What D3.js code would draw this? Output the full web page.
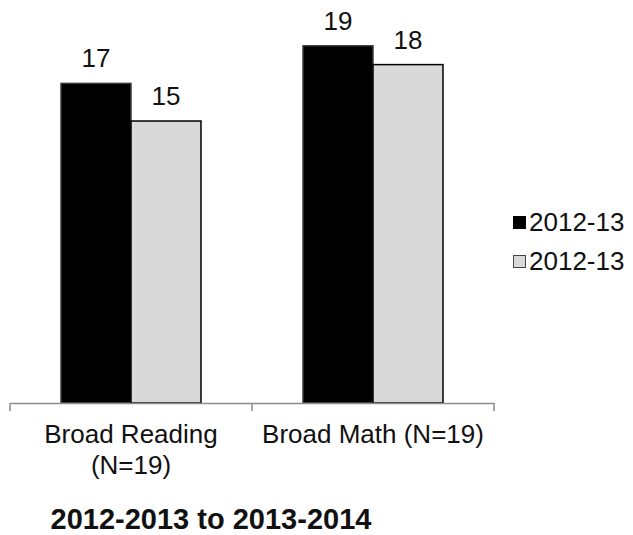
<!DOCTYPE html>
<html><head><meta charset="utf-8">
<script src="https://cdn.jsdelivr.net/npm/d3@7"></script>
<style>body{margin:0;background:#fff}svg{display:block}text{font-family:"Liberation Sans",Arial,sans-serif}</style>
</head><body><div id="chart"></div>
<script>
const categories = ["Broad Reading (N=19)", "Broad Math (N=19)"];
const categoryLines = [["Broad Reading", "(N=19)"], ["Broad Math (N=19)"]];
const seriesNames = ["2012-13", "2012-13"];
const seriesA = [17, 19];
const seriesB = [15, 18];
const seriesColors = ["#000000", "#d9d9d9"];
const seriesStroke = ["#3a3a3a", "#000000"];
const title = "2012-2013 to 2013-2014";

const W = 633, H = 535;
const svg = d3.select("#chart").append("svg").attr("width", W).attr("height", H);

const x0 = d3.scaleBand().domain(categories).range([10, 494]).padding(0);
const seriesIdx = [0, 1];
const x1 = d3.scaleBand().domain(seriesIdx).range([0, x0.bandwidth()]).paddingInner(0).paddingOuter(0.729);
const y = d3.scaleLinear().domain([0, 20]).range([403, 27]);

const data = categories.map((c, i) => ({cat: c, vals: [seriesA[i], seriesB[i]]}));

const g = svg.append("g");
const groups = g.selectAll("g.cat").data(data).join("g")
  .attr("transform", d => `translate(${x0(d.cat)},0)`);

groups.selectAll("rect").data(d => d.vals.map((v, s) => ({v, s}))).join("rect")
  .attr("x", d => x1(d.s))
  .attr("y", d => y(d.v))
  .attr("width", x1.bandwidth())
  .attr("height", d => y(0) - y(d.v))
  .attr("fill", d => seriesColors[d.s])
  .attr("stroke", d => seriesStroke[d.s])
  .attr("stroke-width", 1.5);

groups.selectAll("text.val").data(d => d.vals.map((v, s) => ({v, s}))).join("text")
  .attr("class", "val")
  .attr("x", d => x1(d.s) + x1.bandwidth() / 2)
  .attr("y", d => y(d.v) - 16)
  .attr("text-anchor", "middle")
  .attr("font-size", 26)
  .attr("fill", "#111")
  .text(d => d.v);

// axis
const axis = d3.axisBottom(x0).tickValues([]).tickSizeOuter(0);
const ax = svg.append("g").attr("transform", `translate(0,${y(0)})`).call(axis);
ax.select(".domain").attr("stroke", "#8c8c8c").attr("stroke-width", 1.5);
const boundaries = [x0.range()[0], ...categories.map(c => x0(c) + x0.bandwidth())];
ax.selectAll("line.b").data(boundaries).join("line").attr("class", "b")
  .attr("x1", d => d).attr("x2", d => d).attr("y1", 0).attr("y2", 8)
  .attr("stroke", "#8c8c8c").attr("stroke-width", 1.5);

categories.forEach((c, i) => {
  const cx = x0(c) + x0.bandwidth() / 2;
  const t = svg.append("text").attr("text-anchor", "middle").attr("font-size", 26).attr("fill", "#111")
    .attr("x", cx).attr("y", 443);
  categoryLines[i].forEach((ln, j) => t.append("tspan").attr("x", cx).attr("dy", j === 0 ? 0 : 31).text(ln));
});

// legend
const leg = svg.append("g").attr("transform", "translate(513,0)");
seriesNames.forEach((n, i) => {
  const yy = 216 + i * 39;
  leg.append("rect").attr("x", 0.5).attr("y", yy + 0.5).attr("width", 12).attr("height", 12)
    .attr("fill", seriesColors[i]).attr("stroke", i === 0 ? "#000" : "#444").attr("stroke-width", 1);
  leg.append("text").attr("x", 16).attr("y", yy + 15).attr("font-size", 26).attr("fill", "#111").text(n);
});

svg.append("text").attr("x", 211).attr("y", 529).attr("text-anchor", "middle")
  .attr("font-size", 29).attr("font-weight", "bold").attr("fill", "#111").text(title);
</script></body></html>
